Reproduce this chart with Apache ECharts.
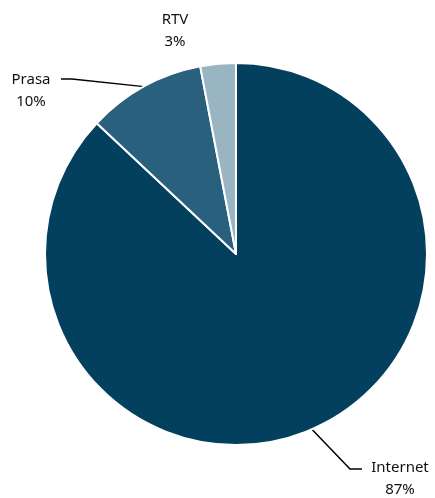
<!DOCTYPE html>
<html>
<head>
<meta charset="utf-8">
<script src="https://cdn.jsdelivr.net/npm/echarts@6/dist/echarts.min.js"></script>
<style>
  html, body { margin: 0; padding: 0; background: #fff; }
  #chart { width: 435px; height: 498px; }
</style>
</head>
<body>
<div id="chart"></div>
<script>
// slices, clockwise from 12 o'clock
var names = ['Internet', 'Prasa', 'RTV']
var shares = [87, 10, 3]
var colors = ['#03405E', '#29607E', '#9AB5C2']

// where each label sits (centre of text) and the bend of its leader line
var labelSpots = [
  { x: 400, y: 479, line: [[350, 469], [362, 469]] },
  { x: 31, y: 91, line: [[72, 79], [61, 79]] },
  { x: 175, y: 31, line: null }
]

var chart = echarts.init(document.getElementById('chart'))

chart.setOption({
  animation: false,
  series: [
    {
      type: 'pie',
      center: [236, 254],
      radius: 191,
      startAngle: 90,
      clockwise: true,
      data: names.map(function(n, i) {
        return {
          name: n,
          value: shares[i],
          itemStyle: { color: colors[i] },
          labelLine: { show: !!labelSpots[i].line }
        }
      }),
      itemStyle: {
        borderColor: '#fff',
        borderWidth: 2
      },
      label: {
        show: true,
        position: 'outside',
        formatter: '{b}\n{d}%',
        fontFamily: 'Noto Sans',
        fontSize: 15,
        lineHeight: 22,
        color: '#111',
        align: 'center'
      },
      labelLine: {
        show: true,
        length: 20,
        length2: 10,
        lineStyle: { color: '#000', width: 1.5 }
      },
      labelLayout: function(params) {
        var spot = labelSpots[params.dataIndex]
        var out = {
          x: spot.x,
          y: spot.y,
          align: 'center',
          verticalAlign: 'middle'
        }
        if (spot.line && params.labelLinePoints) {
          out.labelLinePoints = [params.labelLinePoints[0]].concat(spot.line)
        }
        return out
      }
    }
  ]
})
</script>
</body>
</html>
